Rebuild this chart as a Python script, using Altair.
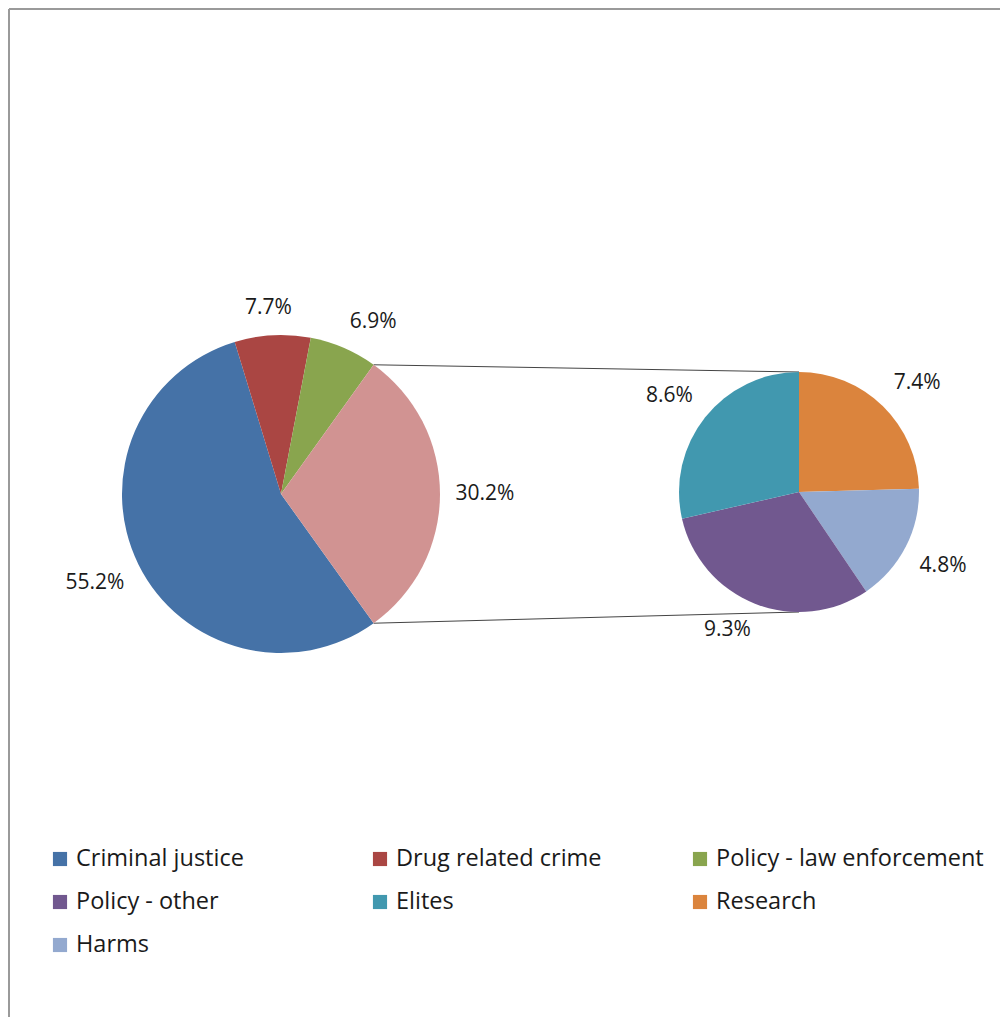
import math
import altair as alt
import pandas as pd

# ---- data -------------------------------------------------------------
main_cats = ["Criminal justice", "Drug related crime", "Policy - law enforcement", "Other"]
main_vals = [55.2, 7.7, 6.9, 30.2]
sub_cats = ["Research", "Harms", "Policy - other", "Elites"]
sub_vals = [7.4, 4.8, 9.3, 8.6]
legend_cats = ["Criminal justice", "Drug related crime", "Policy - law enforcement",
               "Policy - other", "Elites", "Research", "Harms"]
colors = ["#4572A7", "#AA4643", "#89A54E", "#71588F", "#4198AF", "#DB843D", "#93A9CF"]
other_color = "#D19392"

# ---- layout (plot coords; plot origin is page (12,12)) -------------------
PAD = 4
W, H = 988, 1005
CX1, CY1, R1 = 269, 482, 159
CX2, CY2, R2 = 787, 480, 120
GAP = 15
FONT = "Open Sans"
TEXT_COLOR = "#1a1a1a"

color_scale = alt.Scale(domain=legend_cats + ["Other"], range=colors + [other_color])


def clip1(v):
    return max(-1.0, min(1.0, v))


def pie_table(cats, vals, start, cx, cy, r):
    total = sum(vals)
    rows = []
    a = start
    for c, v in zip(cats, vals):
        span = v / total * 2 * math.pi
        mid = a + span / 2
        label = f"{v:.1f}%"
        hw = 6 * len(label)
        s, co = math.sin(mid), math.cos(mid)
        lx = cx + (r + GAP) * s + hw * clip1(2.5 * s)
        ly = cy - (r + GAP) * co - 12 * clip1(2.5 * co)
        rows.append(dict(cat=c, val=v, start=a, end=a + span, label=label, lx=lx, ly=ly))
        a += span
    return pd.DataFrame(rows)


other_frac = main_vals[-1] / sum(main_vals)
main_start = math.pi / 2 + other_frac * math.pi
df1 = pie_table(main_cats, main_vals, main_start, CX1, CY1, R1)
df2 = pie_table(sub_cats, sub_vals, 0.0, CX2, CY2, R2)

# connector lines from edges of the "Other" slice to the top/bottom of the second pie
o = df1[df1["cat"] == "Other"].iloc[0]
conn = pd.DataFrame([
    dict(x=CX1 + R1 * math.sin(o["start"]), y=CY1 - R1 * math.cos(o["start"]),
         x2=CX2, y2=CY2 - R2),
    dict(x=CX1 + R1 * math.sin(o["end"]), y=CY1 - R1 * math.cos(o["end"]),
         x2=CX2, y2=CY2 + R2),
])

# legend table (3 columns)
leg = pd.DataFrame(dict(cat=legend_cats))
leg["col"] = [i % 3 for i in range(len(legend_cats))]
leg["row"] = [i // 3 for i in range(len(legend_cats))]
leg["sx"] = 48 + leg["col"] * 320
leg["tx"] = leg["sx"] + 16
leg["ly"] = 847 + leg["row"] * 43


def pie_layers(df, cx, cy, r):
    arc = alt.Chart(df).mark_arc(radius=r).encode(
        x=alt.value(cx), y=alt.value(cy),
        theta=alt.Theta("start:Q", scale=None),
        theta2="end:Q",
        color=alt.Color("cat:N", scale=color_scale, legend=None),
    )
    txt = alt.Chart(df).mark_text(font=FONT, fontSize=21, color=TEXT_COLOR,
                                  align="center", baseline="middle").encode(
        x=alt.X("lx:Q", scale=None), y=alt.Y("ly:Q", scale=None),
        text="label:N",
    )
    return [arc, txt]


lines = alt.Chart(conn).mark_rule(color="#444444", strokeWidth=1).encode(
    x=alt.X("x:Q", scale=None), y=alt.Y("y:Q", scale=None),
    x2="x2:Q", y2="y2:Q",
)

leg_sq = alt.Chart(leg).mark_square(size=200, opacity=1).encode(
    x=alt.X("sx:Q", scale=None), y=alt.Y("ly:Q", scale=None),
    color=alt.Color("cat:N", scale=color_scale, legend=None),
)
leg_txt = alt.Chart(leg).mark_text(font=FONT, fontSize=23.5, color=TEXT_COLOR,
                                   align="left", baseline="middle").encode(
    x=alt.X("tx:Q", scale=None), y=alt.Y("ly:Q", scale=None),
    text="cat:N",
)

B = -3
border = pd.DataFrame(dict(x=[B, B], y=[B, B], x2=[W, B], y2=[B, H]))
border_lines = alt.Chart(border).mark_rule(color="#9a9a9a", strokeWidth=2).encode(
    x=alt.X("x:Q", scale=None), y=alt.Y("y:Q", scale=None),
    x2="x2:Q", y2="y2:Q",
)

chart = alt.layer(
    border_lines, lines,
    *pie_layers(df1, CX1, CY1, R1),
    *pie_layers(df2, CX2, CY2, R2),
    leg_sq, leg_txt,
).properties(
    width=W, height=H,
    padding={"left": PAD, "top": PAD, "right": 0, "bottom": 0},
    autosize=alt.AutoSizeParams(type="none"),
    background="white",
).configure_view(stroke=None)

chart.save("out.html", embed_options={"renderer": "svg", "actions": False})
